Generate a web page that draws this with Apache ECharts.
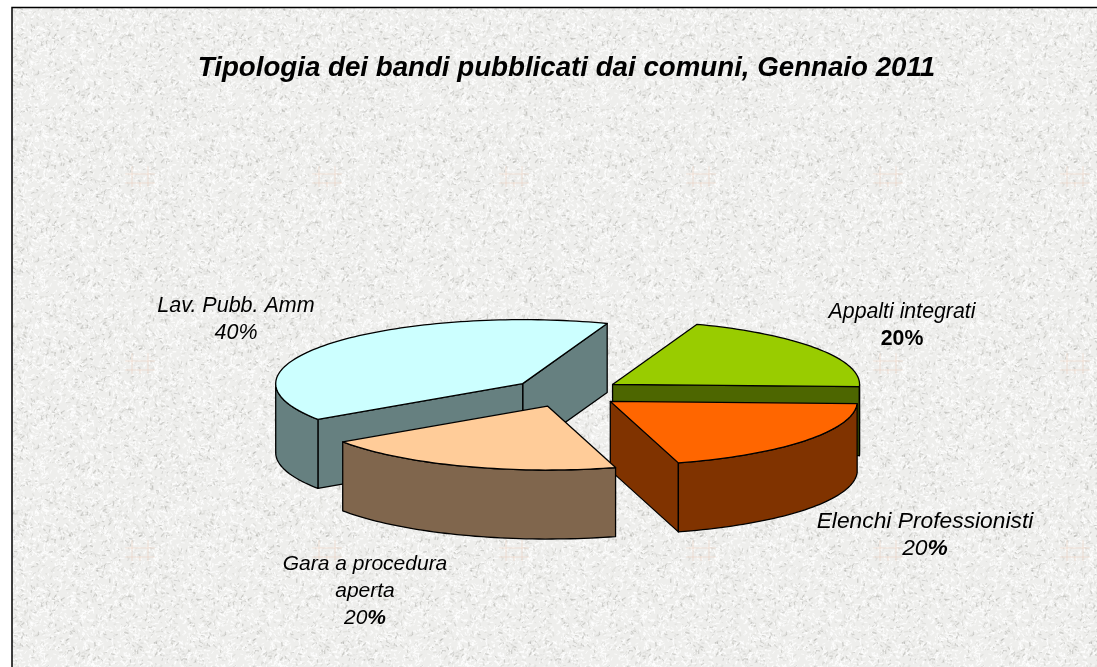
<!DOCTYPE html>
<html>
<head>
<meta charset="utf-8">
<title>Tipologia dei bandi</title>
<script src="https://cdn.jsdelivr.net/npm/echarts@6/dist/echarts.min.js"></script>
<style>
html, body { margin: 0; padding: 0; background: #fff; }
#main { width: 1097px; height: 667px; }
</style>
</head>
<body>
<div id="main"></div>
<script>
// data
var titleText = 'Tipologia dei bandi pubblicati dai comuni, Gennaio 2011';
var categories = ['Lav. Pubb. Amm', 'Gara a procedura\naperta', 'Elenchi Professionisti', 'Appalti integrati'];
var shares = [40, 20, 20, 20];
var topColors = ['#ccffff', '#ffcc99', '#ff6600', '#99cc00'];
var wallColors = ['#668080', '#80664d', '#803300', '#4d6600'];

// 3d look of the pie
var cx = 566.5, cy = 392.5, rx = 247, ry = 64, depth = 69;
var startAngle = 70, explode = 0.225;
var total = shares.reduce(function (a, b) { return a + b; }, 0);

// percent sign style differs from label to label
var percentStyle = ['i', 'm', 'm', 'b'];
var labelSpots = [
    { x: 236, y: 320, size: 21.5 },
    { x: 365, y: 591, size: 21 },
    { x: 925, y: 535, size: 22.8 },
    { x: 902, y: 326, size: 21.3 }
];

function deg(a) { return a * Math.PI / 180; }

function slices() {
    var list = [], a = startAngle;
    shares.forEach(function (v, i) {
        var sweep = v / total * 360;
        var mid = a + sweep / 2;
        list.push({
            idx: i, from: a, to: a + sweep,
            x: cx + explode * rx * Math.cos(deg(mid)),
            y: cy - explode * ry * Math.sin(deg(mid))
        });
        a += sweep;
    });
    // back slices are painted first
    return list.sort(function (p, q) { return p.y - q.y; });
}

function rimPoints(s, a0, a1, dy) {
    var pts = [];
    var n = Math.max(2, Math.ceil(Math.abs(a1 - a0) / 1.5));
    for (var k = 0; k <= n; k++) {
        var t = deg(a0 + (a1 - a0) * k / n);
        pts.push([s.x + rx * Math.cos(t), s.y - ry * Math.sin(t) + dy]);
    }
    return pts;
}

function poly(points, fill) {
    return {
        type: 'polygon',
        shape: { points: points },
        style: { fill: fill, stroke: '#000', lineWidth: 1.3, lineJoin: 'round' }
    };
}

var sliceList = slices();

function renderSlice(params, api) {
    var s = sliceList[params.dataIndex];
    var wall = wallColors[s.idx], kids = [];
    var apex = [s.x, s.y], apexLow = [s.x, s.y + depth];

    // cut faces, only the ones turned to the viewer
    if (Math.cos(deg(s.from)) > 0) {
        var p0 = rimPoints(s, s.from, s.from, 0)[0];
        kids.push(poly([apex, p0, [p0[0], p0[1] + depth], apexLow], wall));
    }
    if (Math.cos(deg(s.to)) < 0) {
        var p1 = rimPoints(s, s.to, s.to, 0)[0];
        kids.push(poly([apex, p1, [p1[0], p1[1] + depth], apexLow], wall));
    }
    // outer wall, front half of the ellipse only
    var w0 = Math.max(s.from, 180), w1 = Math.min(s.to, 360);
    if (w1 > w0) {
        kids.push(poly(rimPoints(s, w0, w1, 0).concat(rimPoints(s, w1, w0, depth)), wall));
    }
    // top
    kids.push(poly([apex].concat(rimPoints(s, s.from, s.to, 0)), topColors[s.idx]));
    return { type: 'group', children: kids };
}

// stone texture tile, fixed pseudo noise so it never changes
function makeTile(size) {
    var c = document.createElement('canvas');
    c.width = c.height = size;
    var g = c.getContext('2d');
    var seed = 12345;
    function next() {
        seed = (seed * 1103515245 + 12345) % 2147483648;
        return seed / 2147483648;
    }
    g.fillStyle = '#eeeeec';
    g.fillRect(0, 0, size, size);
    g.lineCap = 'round';
    for (var i = 0; i < 4200; i++) {
        var x = next() * size, y = next() * size, r = next() * Math.PI * 2;
        var len = 1 + next() * 2.5, tone = next();
        g.strokeStyle = tone < 0.62 ? 'rgba(255,255,255,0.75)'
            : (tone < 0.88 ? 'rgba(208,208,204,0.45)' : 'rgba(160,160,156,0.4)');
        g.lineWidth = 0.8 + next() * 0.7;
        g.beginPath();
        g.moveTo(x, y);
        g.lineTo(x + Math.cos(r) * len, y + Math.sin(r) * len);
        g.stroke();
    }
    // faint pink mark of the tile
    g.strokeStyle = 'rgba(235,205,185,0.25)';
    g.lineWidth = 2;
    var mx = 140, my = 183;
    [[-14, -9, 14, -9], [-14, 0, 14, 0], [-8, -16, -8, 18], [8, -16, 8, 18], [0, 0, 0, 18]].forEach(function (l) {
        g.beginPath();
        g.moveTo(mx + l[0], my + l[1]);
        g.lineTo(mx + l[2], my + l[3]);
        g.stroke();
    });
    return c;
}

function labelRich(i) {
    var t = categories[i].split('\n').map(function (line) { return '{n|' + line + '}'; }).join('\n');
    var st = percentStyle[i];
    var pct = st === 'b' ? '{b|' + shares[i] + '%}'
        : (st === 'm' ? '{n|' + shares[i] + '}{bi|%}' : '{n|' + shares[i] + '%}');
    return t + '\n' + pct;
}

function richStyles(size) {
    var base = { fontFamily: 'Liberation Sans', fontSize: size, lineHeight: 27, fill: '#000' };
    return {
        n: echarts.util.extend({ fontStyle: 'italic' }, base),
        bi: echarts.util.extend({ fontStyle: 'italic', fontWeight: 'bold' }, base),
        b: echarts.util.extend({ fontWeight: 'bold' }, base)
    };
}

var chartDom = document.getElementById('main');
var myChart = echarts.init(chartDom, null, { renderer: 'canvas' });

var option = {
    animation: false,
    backgroundColor: '#fff',
    title: {
        text: titleText,
        left: 561.5,
        top: 49,
        textAlign: 'center',
        textStyle: {
            fontFamily: 'Liberation Sans',
            fontStyle: 'italic',
            fontWeight: 'bold',
            fontSize: 27.7,
            color: '#000'
        }
    },
    graphic: [
        {
            type: 'rect',
            z: -10,
            shape: { x: 12, y: 7.5, width: 1100, height: 680 },
            style: {
                fill: { image: makeTile(187), repeat: 'repeat' },
                stroke: '#000',
                lineWidth: 1.5
            },
            silent: true
        }
    ].concat(categories.map(function (c, i) {
        return {
            type: 'text',
            z: 20,
            x: labelSpots[i].x,
            y: labelSpots[i].y,
            style: {
                text: labelRich(i),
                rich: richStyles(labelSpots[i].size),
                align: 'center',
                verticalAlign: 'middle'
            }
        };
    })),
    series: [
        {
            type: 'custom',
            coordinateSystem: 'none',
            silent: true,
            renderItem: renderSlice,
            data: sliceList.map(function (s) { return [shares[s.idx]]; })
        }
    ]
};

myChart.setOption(option);
</script>
</body>
</html>
